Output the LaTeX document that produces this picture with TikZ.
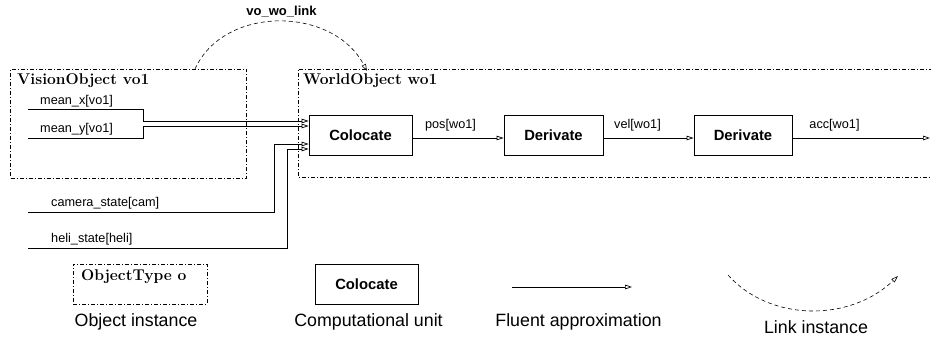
\documentclass[tikz,border=0pt]{standalone}
\usepackage{fontspec}
\newfontfamily\lsans{Liberation Sans}
\usetikzlibrary{arrows.meta,calc}
\begin{document}
\begin{tikzpicture}[x=1pt,y=-1pt,
  objbox/.style={draw, line width=0.6pt, dash pattern=on 4pt off 2pt on 1pt off 2pt},
  unitbox/.style={draw, line width=0.7pt, minimum width=103pt, minimum height=40pt, inner sep=0pt,
    font=\lsans\bfseries\fontsize{14.8}{17}\selectfont},
  flow/.style={line width=0.7pt, -{Triangle[open,length=7pt,width=4.5pt]}},
  linkarc/.style={line width=0.6pt, dash pattern=on 4pt off 3pt, -{Triangle[open,length=7pt,width=4.5pt]}},
  lbl/.style={inner sep=0pt, font=\lsans\fontsize{12.7}{15}\selectfont},
  ttl/.style={inner sep=0pt, anchor=west, font=\bfseries\fontsize{15.6}{18}\selectfont},
  capt/.style={inner sep=0pt, font=\lsans\fontsize{17.8}{21}\selectfont}]
\useasboundingbox (0,0) rectangle (931,337);
% object instances
\node[objbox, minimum width=236pt, minimum height=109pt] (vo) at (128.5,123.5) {};
\node[ttl] (vot) at (17,81) {VisionObject vo1};
\coordinate (woa) at (933,69);
\coordinate (wob) at (933,177);
\draw[objbox] (woa) -- (298,69) -- (298,177) -- (wob);
\node[ttl] (wot) at (303,81) {WorldObject wo1};
% computational units
\node[unitbox] (col) at (360.5,135) {Colocate};
\node[unitbox, minimum width=99pt] (d1) at (553.5,135) {Derivate};
\node[unitbox, minimum width=98pt] (d2) at (743,135) {Derivate};
% inputs
\node[lbl, anchor=west] (mxl) at (40,101) {mean\_x[vo1]};
\node[lbl, anchor=west] (myl) at (40,129) {mean\_y[vo1]};
\node[lbl, anchor=west] (csl) at (51,203) {camera\_state[cam]};
\node[lbl, anchor=west] (hsl) at (51,239) {heli\_state[heli]};
\coordinate (mx) at (28,109);
\coordinate (my) at (28,138);
\coordinate (cs) at (28,212);
\coordinate (hs) at (28,248);
\draw[flow] (mx) -- (143,109) |- ([yshift=14pt]col.west);
\draw[flow] (my) -- (143,138) |- ([yshift=9pt]col.west);
\draw[flow] (cs) -- (274,212) |- ([yshift=-9pt]col.west);
\draw[flow] (hs) -- (287,248) |- ([yshift=-14pt]col.west);
% fluents between units
\draw[flow] ([yshift=-3pt]col.east) -- ([yshift=-3pt]d1.west);
\draw[flow] ([yshift=-3pt]d1.east) -- ([yshift=-3pt]d2.west);
\coordinate (out) at (930,138);
\draw[flow] ([yshift=-3pt]d2.east) -- (out);
\node[lbl] (posl) at (450.5,125) {pos[wo1]};
\node[lbl] (vell) at (637.5,125) {vel[wo1]};
\node[lbl] (accl) at (834.5,125) {acc[wo1]};
% link
\node[inner sep=0pt, font=\lsans\bfseries\fontsize{13}{15}\selectfont] (lk) at (281.5,12) {vo\_wo\_link};
\coordinate (ls) at (195,69);
\coordinate (le) at (367,71);
\draw[linkarc] (ls) .. controls (224,5) and (333,6) .. (le);
% legend
\node[objbox, minimum width=134pt, minimum height=40pt] (lo) at (140,284) {};
\node[ttl] (lot) at (81,277) {ObjectType o};
\node[capt] (loc) at (136,322) {Object instance};
\node[unitbox] (lu) at (366.5,284) {Colocate};
\node[capt] (luc) at (368.5,322) {Computational unit};
\coordinate (fa) at (512,287);
\coordinate (fb) at (632,287);
\draw[flow] (fa) -- (fb);
\node[capt] (lfc) at (578.5,322) {Fluent approximation};
\coordinate (la) at (728,275);
\coordinate (lb) at (898,276);
\draw[linkarc] (la) .. controls (770,322) and (850,322) .. (lb);
\node[capt] (llc) at (816,327) {Link instance};
\end{tikzpicture}
\end{document}
